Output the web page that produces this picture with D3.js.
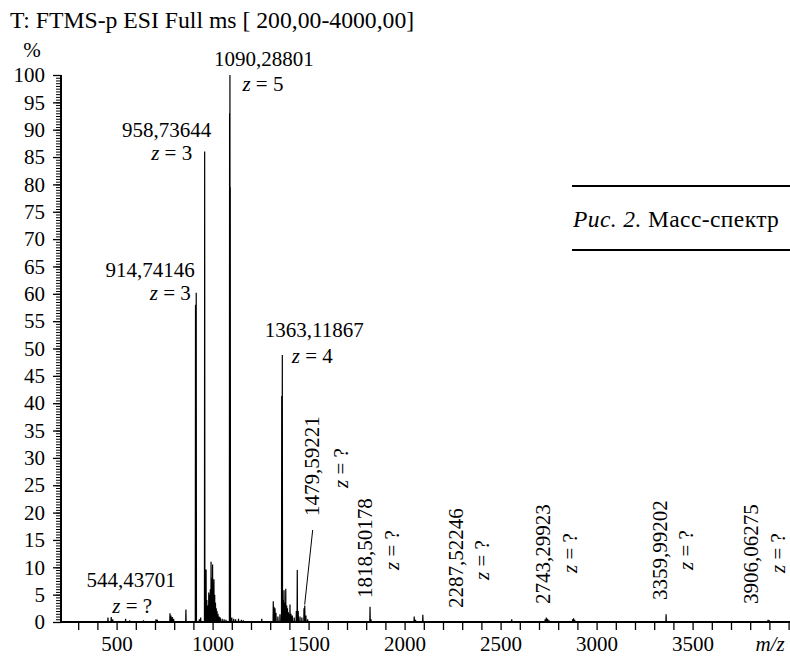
<!DOCTYPE html>
<html><head><meta charset="utf-8">
<script src="https://cdn.jsdelivr.net/npm/d3@7"></script>
<style>
body{margin:0;background:#fff}
svg{display:block}
text{font-family:"Liberation Serif","Times New Roman",serif;fill:#000}
</style>
</head><body>
<svg id="c" width="790" height="657"></svg>
<script>
// ---- data ----
const peakMz = [455,472,480,547,568,640,705,712,778,783,790,797,861,911,914.7,931,938,958.7,966,970,975,980,984,988,992,996,1000,1004,1007,1011,1015,1019,1023,1028,1034,1040,1050,1060,1070,1088.5,1090.3,1092,1100,1110,1120,1135,1150,1160,1256,1316,1320,1325,1330,1340,1351,1360,1363.1,1368,1372,1377,1381,1386,1390,1395,1399,1403,1408,1415,1425,1436,1441,1446,1455,1465,1476,1480,1486,1495,1820,1825,2050,2057,2095,2558,2732,2738,2745,2752,2875,2880,2886,3362,3893,3900];
const peakIntensity = [0.8,0.9,0.5,0.6,0.3,0.3,0.5,0.4,1.6,1.2,0.9,0.6,2.3,58,60.2,0.5,0.8,86,9.6,4,3,5.4,5,6,11,8,10.5,6,7.8,5,3.5,2.5,2,1.5,1,0.8,0.6,0.5,0.4,93,100,79.5,0.8,0.6,0.5,0.6,0.4,0.3,0.6,3.8,2.8,2.5,1.7,1.0,1.4,41.3,48.8,4,5.8,3.5,6.1,3,2.5,1.8,1.4,3.2,1.5,1.2,0.8,2,9.5,2,1,0.8,2.5,3.0,1.2,0.5,2.8,0.5,1.0,0.4,1.3,0.5,0.5,0.8,0.6,0.3,0.5,0.7,0.4,1.4,0.4,0.3];
const yTicks = d3.range(0, 101, 5);
const yMinorTicks = d3.range(0, 100.01, 0.5);
const xTicks = d3.range(300, 4001, 100);
const xTickLabels = [500, 1000, 1500, 2000, 2500, 3000, 3500];
const labelMz = [544.43701, 914.74146, 958.73644, 1090.28801, 1363.11867, 1479.59221, 1818.50178, 2287.52246, 2743.29923, 3359.99202, 3906.06275];
const labelNames = ["544,43701","914,74146","958,73644","1090,28801","1363,11867","1479,59221","1818,50178","2287,52246","2743,29923","3359,99202","3906,06275"];
const labelCharges = ["?","3","3","5","4","?","?","?","?","?","?"];
const labelTop = [0.6, 60.2, 86, 100, 48.8, 3.0, 2.8, 0.4, 0.8, 1.4, 0.4];
const titleText = "T: FTMS-p ESI Full ms [ 200,00-4000,00]";
const captionItalic = "Рис. 2.";
const captionText = " Масс-спектр";

// ---- layout (pixel offsets) ----
const labelLayout = [
  {mode:"h", ndx:6,   ndy:-31.7, zdx:7,   zdy:-5.7},
  {mode:"h", ndx:-46, ndy:-15.7, zdx:-26, zdy:7.3},
  {mode:"h", ndx:-38, ndy:-14.6, zdx:-33, zdy:8.4},
  {mode:"h", ndx:34,  ndy:-9,    zdx:33,  zdy:16},
  {mode:"h", ndx:32,  ndy:-18,   zdx:30,  zdy:8},
  {mode:"v", ndx:7,   ncy:-156,  zdx:36,  zcy:-154, leader:true},
  {mode:"v", ndx:-5,  ncy:-74,   zdx:22,  zcy:-72},
  {mode:"v", ndx:-4,  ncy:-64,   zdx:22,  zcy:-62},
  {mode:"v", ndx:-5,  ncy:-68,   zdx:22,  zcy:-69},
  {mode:"v", ndx:-6,  ncy:-72,   zdx:20,  zcy:-72},
  {mode:"v", ndx:-20, ncy:-68,   zdx:7,   zcy:-69}
];

const svg = d3.select("#c");
const x = d3.scaleLinear().domain([200, 4000]).range([59, 788.6]);
const y = d3.scaleLinear().domain([0, 100]).range([622, 75]);
const FS = 21;

// title
svg.append("text").attr("x", 10).attr("y", 28).attr("font-size", 23.7).text(titleText);
svg.append("text").attr("x", 32).attr("y", 57).attr("font-size", FS).attr("text-anchor","middle").text("%");

// y axis
const yMinor = svg.append("g").attr("transform","translate(61,0)")
  .call(d3.axisLeft(y).tickValues(yMinorTicks).tickSize(5).tickFormat(""));
yMinor.select(".domain").remove();
yMinor.selectAll("line").attr("stroke","#000").attr("stroke-width",1);
const yMajor = svg.append("g").attr("transform","translate(61,0)")
  .call(d3.axisLeft(y).tickValues(yTicks).tickSize(8).tickPadding(8));
yMajor.select(".domain").remove();
yMajor.selectAll("line").attr("stroke","#000").attr("stroke-width",1.3);
yMajor.selectAll("text").attr("font-size", FS).attr("font-family","Liberation Serif");

// x axis
const xAx = svg.append("g").attr("transform","translate(0,622)")
  .call(d3.axisBottom(x).tickValues(xTicks).tickSize(8).tickPadding(6)
    .tickFormat(d => xTickLabels.includes(d) ? String(d) : ""));
xAx.select(".domain").remove();
xAx.selectAll("line").attr("stroke","#000").attr("stroke-width",1.3);
xAx.selectAll("text").attr("font-size", FS).attr("font-family","Liberation Serif");

// axis lines
svg.append("line").attr("x1",61).attr("x2",61).attr("y1",y(100)).attr("y2",y(0)+1)
  .attr("stroke","#000").attr("stroke-width",2);
svg.append("line").attr("x1",60).attr("x2",790).attr("y1",y(0)).attr("y2",y(0))
  .attr("stroke","#000").attr("stroke-width",2);

svg.append("text").attr("x",770).attr("y",651).attr("font-size",FS)
  .attr("font-style","italic").attr("text-anchor","middle").text("m/z");

// spectrum
const w = 1.2;
const pts = [];
peakMz.map((m,i)=>[m, peakIntensity[i]]).sort((a,b)=>a[0]-b[0]).forEach(([m,h])=>{
  pts.push([m-w,0],[m,h],[m+w,0]);
});
svg.append("path").attr("d", d3.line().x(d=>x(d[0])).y(d=>y(d[1]))(pts))
  .attr("fill","none").attr("stroke","#000").attr("stroke-width",1.2).attr("stroke-linejoin","miter");

// labels
function zLabel(sel, ch){
  sel.append("tspan").attr("font-style","italic").text("z");
  sel.append("tspan").text(" = " + ch);
}
labelMz.forEach((m,i)=>{
  const L = labelLayout[i];
  const px = x(m), py = y(labelTop[i]);
  if (L.mode === "h") {
    svg.append("text").attr("x", px+L.ndx).attr("y", py+L.ndy).attr("font-size",FS)
      .attr("text-anchor","middle").text(labelNames[i]);
    const t = svg.append("text").attr("x", px+L.zdx).attr("y", py+L.zdy).attr("font-size",FS)
      .attr("text-anchor","middle");
    zLabel(t, labelCharges[i]);
  } else {
    const b = y(0);
    svg.append("text").attr("transform",`translate(${px+L.ndx},${b+L.ncy}) rotate(-90)`)
      .attr("font-size",FS).attr("text-anchor","middle").attr("dy","0.35em").text(labelNames[i]);
    const t = svg.append("text").attr("transform",`translate(${px+L.zdx},${b+L.zcy}) rotate(-90)`)
      .attr("font-size",FS).attr("text-anchor","middle").attr("dy","0.35em");
    zLabel(t, labelCharges[i]);
    if (L.leader) {
      svg.append("line").attr("x1", px+8).attr("y1", 530).attr("x2", px).attr("y2", py-1)
        .attr("stroke","#000").attr("stroke-width",1);
    }
  }
});

// caption box
svg.append("line").attr("x1",572).attr("x2",790).attr("y1",186).attr("y2",186).attr("stroke","#000").attr("stroke-width",2);
svg.append("line").attr("x1",572).attr("x2",790).attr("y1",250).attr("y2",250).attr("stroke","#000").attr("stroke-width",2);
const cap = svg.append("text").attr("x",573).attr("y",227).attr("font-size",23.5).attr("letter-spacing",0.4);
cap.append("tspan").attr("font-style","italic").text(captionItalic);
cap.append("tspan").text(captionText);
</script>
</body></html>
